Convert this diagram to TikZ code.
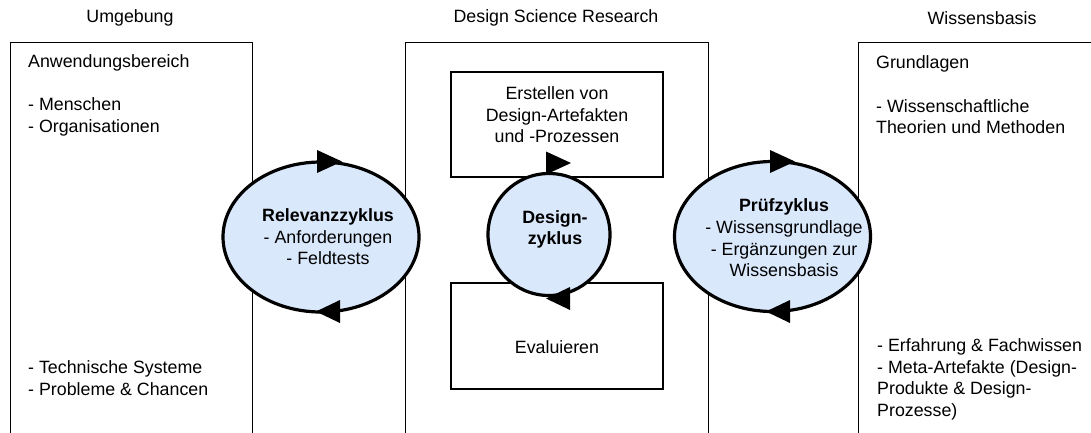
\documentclass[tikz,border=0pt]{standalone}
\usepackage{fontspec}
\setmainfont{Liberation Sans}
\usetikzlibrary{shapes.geometric}
\definecolor{cyclefill}{HTML}{DAE8FC}
\begin{document}
\begin{tikzpicture}[x=1pt,y=-1pt,
  every node/.style={font=\fontsize{17.8}{21.6}\selectfont, inner sep=0pt},
  frame/.style={draw=black, line width=1.3pt, anchor=north west},
  stepbox/.style={draw=black, line width=1.3pt, fill=white},
  cyclebox/.style={draw=black, line width=3.2pt, fill=cyclefill},
  cw/.pic={\fill (-2,-11.5) -- (23,0) -- (-2,11.5) -- cycle;},
  ccw/.pic={\fill (22,-11.5) -- (-2,0) -- (22,11.5) -- cycle;}
]
\useasboundingbox (0,0) rectangle (1091,432);
\begin{scope}
  \clip (0,0) rectangle (1091,432);
  % the three columns
  \node[frame, minimum width=242pt, minimum height=420pt] (env) at (10,42) {};
  \node[frame, minimum width=303pt, minimum height=420pt] (dsr) at (405,42) {};
  \node[frame, minimum width=260pt, minimum height=420pt] (kb) at (858,42) {};
\end{scope}

% column headings
\node (henv) at (130,18) {Umgebung};
\node (hdsr) at (556,18) {Design Science Research};
\node (hkb) at (982,18) {Wissensbasis};

% contents of the environment column
\node[align=left, anchor=west] (envtop) at (28,95)
  {Anwendungsbereich\\\mbox{}\\- Menschen\\- Organisationen};
\node[align=left, anchor=west] (envbot) at (28,378)
  {- Technische Systeme\\- Probleme \& Chancen};

% contents of the knowledge base column
\node[align=left, anchor=west] (kbtop) at (876,95)
  {Grundlagen\\\mbox{}\\- Wissenschaftliche\\Theorien und Methoden};
\node[align=left, anchor=west] (kbbot) at (877,379.5)
  {- Erfahrung \& Fachwissen\\- Meta-Artefakte (Design-\\Produkte \& Design-\\Prozesse)};

% build and evaluate activities
\node[stepbox, minimum width=212pt, minimum height=105pt] (build) at (557,124.5) {};
\node[align=center] (buildtxt) at (557,115) {Erstellen von\\Design-Artefakten\\und -Prozessen};
\node[stepbox, minimum width=212pt, minimum height=106pt] (eval) at (557,336) {};
\node (evaltxt) at (557,347) {Evaluieren};

% the three cycles
\node[cyclebox, ellipse, minimum width=196pt, minimum height=150pt] (rel) at (321,237) {};
\node[align=center] (reltxt) at (328,237)
  {\textbf{Relevanzzyklus}\\- Anforderungen\\- Feldtests};
\pic at (319,161.5) {cw};
\pic at (318,311.5) {ccw};

\node[cyclebox, circle, minimum size=122pt] (des) at (549,234.5) {};
\node[align=center] (destxt) at (555,229.5) {\textbf{Design-}\\\textbf{zyklus}};
\pic at (548,163) {cw};
\pic at (548,298.5) {ccw};

\node[cyclebox, ellipse, minimum width=196pt, minimum height=150pt] (rig) at (772.5,236.5) {};
\node[align=center] (rigtxt) at (784,238)
  {\textbf{Prüfzyklus}\\- Wissensgrundlage\\- Ergänzungen zur\\Wissensbasis};
\pic at (772,161.5) {cw};
\pic at (768,311.5) {ccw};
\end{tikzpicture}
\end{document}
